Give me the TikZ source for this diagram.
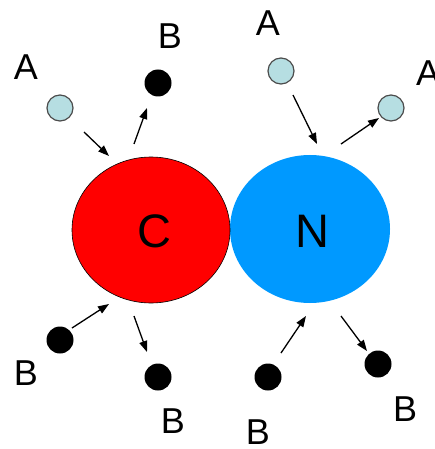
\documentclass[tikz,border=0pt]{standalone}
\usepackage{fontspec}
\setmainfont{Liberation Sans}
\usetikzlibrary{arrows.meta,shapes.geometric}
\definecolor{cred}{RGB}{255,0,0}
\definecolor{cblue}{RGB}{0,153,255}
\definecolor{alight}{RGB}{182,222,226}
\begin{document}
\begin{tikzpicture}[x=1pt,y=-1pt,
  atomA/.style={circle,draw=black!70,line width=1.2pt,fill=alight,minimum size=26pt,inner sep=0pt},
  atomB/.style={circle,fill=black,minimum size=27pt,inner sep=0pt},
  lbl/.style={font=\fontsize{36}{36}\selectfont,inner sep=0pt},
  big/.style={font=\fontsize{47}{47}\selectfont,inner sep=0pt},
  arr/.style={-{Triangle[length=11pt,width=8pt]},line width=1.3pt}]
\useasboundingbox (0,0) rectangle (435,449);
% big atoms
\node[ellipse,fill=cblue,minimum width=160pt,minimum height=148pt,inner sep=0pt] (N) at (310,229) {};
\node[ellipse,fill=cred,draw=black,line width=0.6pt,minimum width=158pt,minimum height=146pt,inner sep=0pt] (C) at (151,230) {};
\node[big] (Ct) at (154,231) {C};
\node[big] (Nt) at (312,231) {N};
% small atoms
\node[atomA] (a1) at (60,108) {};
\node[atomB] (b1) at (158,83) {};
\node[atomA] (a2) at (281,71) {};
\node[atomA] (a3) at (391,108) {};
\node[atomB] (b2) at (60,340) {};
\node[atomB] (b3) at (158,377) {};
\node[atomB] (b4) at (268,377) {};
\node[atomB] (b5) at (378,364) {};
% labels
\node[lbl] (la1) at (26,67) {A};
\node[lbl] (lb1) at (170,36) {B};
\node[lbl] (la2) at (268,23) {A};
\node[lbl] (la3) at (428,73) {A};
\node[lbl] (lb2) at (26,373) {B};
\node[lbl] (lb3) at (173,421) {B};
\node[lbl] (lb4) at (258,432) {B};
\node[lbl] (lb5) at (405,409) {B};
% arrow end points
\coordinate (s1) at (84,132); \coordinate (e1) at (109,156);
\coordinate (s2) at (134,144); \coordinate (e2) at (147,108);
\coordinate (s3) at (293,95); \coordinate (e3) at (317,144);
\coordinate (s4) at (341,144); \coordinate (e4) at (379,118);
\coordinate (s5) at (72,328); \coordinate (e5) at (109,304);
\coordinate (s6) at (134,316); \coordinate (e6) at (147,352);
\coordinate (s7) at (281,353); \coordinate (e7) at (306,316);
\coordinate (s8) at (341,316); \coordinate (e8) at (367,351);
\foreach \i in {1,...,8} {\draw[arr] (s\i) -- (e\i);}
\end{tikzpicture}
\end{document}
